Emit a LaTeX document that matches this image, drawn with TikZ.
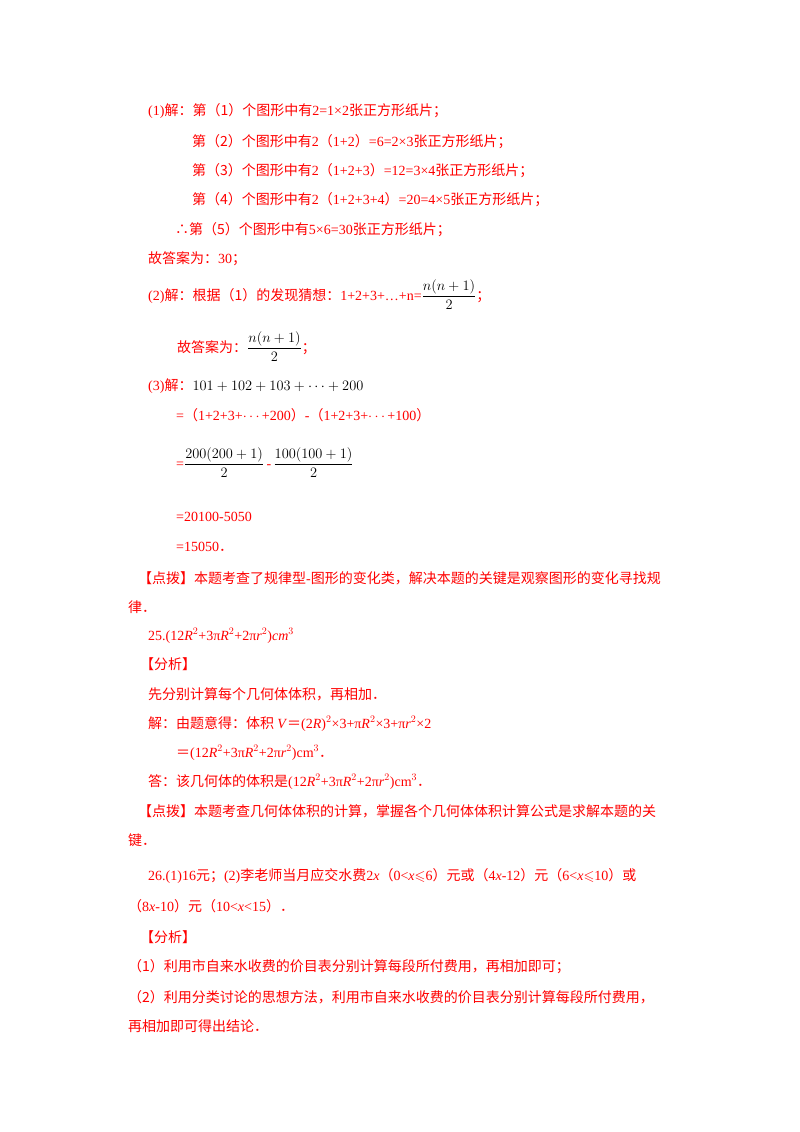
\documentclass[tikz,border=0pt]{standalone}
\usepackage{amsmath,amssymb}
\usepackage{fontspec}
\setmainfont{Noto Sans CJK SC}
\newfontfamily\lat{Liberation Serif}
\begin{document}
\begin{tikzpicture}[x=1pt,y=-1pt,
  t/.style={anchor=base west,inner sep=0pt,text=red,font=\fontsize{14}{17}\selectfont},
  k/.style={t,text=black}]
\useasboundingbox[fill=white] (0,0) rectangle (800,1132);
\node[t] (l1) at (148,115) {{\lat (1)}解：第（1）个图形中有{\lat 2=1×2}张正方形纸片；};
\node[t] (l2) at (192,146) {第（2）个图形中有{\lat 2}（{\lat 1+2}）{\lat =6=2×3}张正方形纸片；};
\node[t] (l3) at (192,175) {第（3）个图形中有{\lat 2}（{\lat 1+2+3}）{\lat =12=3×4}张正方形纸片；};
\node[t] (l4) at (192,204) {第（4）个图形中有{\lat 2}（{\lat 1+2+3+4}）{\lat =20=4×5}张正方形纸片；};
\node[t] (l5) at (175,234) {∴第（5）个图形中有{\lat 5×6=30}张正方形纸片；};
\node[t] (l6) at (148,263) {故答案为：{\lat 30}；};
\node[t] (l7) at (148,300) {{\lat (2)}解：根据（1）的发现猜想：{\lat 1+2+3+…+n=}\textcolor{black}{$\dfrac{n(n+1)}{2}$}；};
\node[t] (l8) at (177,352) {故答案为：\textcolor{black}{$\dfrac{n(n+1)}{2}$}；};
\node[t] (l9) at (148,390) {{\lat (3)}解：\textcolor{black}{$101+102+103+\cdots+200$}};
\node[t] (l10) at (176,420) {{\lat =}（{\lat 1+2+3+$\cdots$+200}）{\lat -}（{\lat 1+2+3+$\cdots$+100}）};
\node[t] (l11) at (176,468) {{\lat =}\textcolor{black}{$\dfrac{200(200+1)}{2}$}\,{\lat -}\,\textcolor{black}{$\dfrac{100(100+1)}{2}$}};
\node[t] (l12) at (176,521) {\lat =20100-5050};
\node[t] (l13) at (176,551) {{\lat =15050}．};
\node[t] (l14) at (138,583) {【点拨】本题考查了规律型{\lat -}图形的变化类，解决本题的关键是观察图形的变化寻找规};
\node[t] (l15) at (128,612) {律．};
\node[t] (l16) at (148,640) {\lat 25.(12\textit{R}$^2$+3π\textit{R}$^2$+2π\textit{r}$^2$)\textit{cm}$^3$};
\node[t] (l17) at (140,669) {【分析】};
\node[t] (l18) at (148,699) {先分别计算每个几何体体积，再相加．};
\node[t] (l19) at (148,728) {解：由题意得：体积 {\lat \textit{V}}＝{\lat (2\textit{R})$^2$×3+π\textit{R}$^2$×3+π\textit{r}$^2$×2}};
\node[t] (l20) at (176,757) {＝{\lat (12\textit{R}$^2$+3π\textit{R}$^2$+2π\textit{r}$^2$)cm$^3$}．};
\node[t] (l21) at (148,786) {答：该几何体的体积是{\lat (12\textit{R}$^2$+3π\textit{R}$^2$+2π\textit{r}$^2$)cm$^3$}．};
\node[t] (l22) at (138,816) {【点拨】本题考查几何体体积的计算，掌握各个几何体体积计算公式是求解本题的关};
\node[t] (l23) at (128,845) {键．};
\node[t] (l24) at (148,880) {{\lat 26.(1)16}元；{\lat (2)}李老师当月应交水费{\lat 2\textit{x}}（{\lat 0<\textit{x}$\leqslant$6}）元或（{\lat 4\textit{x}-12}）元（{\lat 6<\textit{x}$\leqslant$10}）或};
\node[t] (l25) at (128,911) {（{\lat 8\textit{x}-10}）元（{\lat 10<\textit{x}<15}）．};
\node[t] (l26) at (140,942) {【分析】};
\node[t] (l27) at (128,971) {（1）利用市自来水收费的价目表分别计算每段所付费用，再相加即可；};
\node[t] (l28) at (128,1002) {（2）利用分类讨论的思想方法，利用市自来水收费的价目表分别计算每段所付费用，};
\node[t] (l29) at (128,1031) {再相加即可得出结论．};
\end{tikzpicture}
\end{document}
